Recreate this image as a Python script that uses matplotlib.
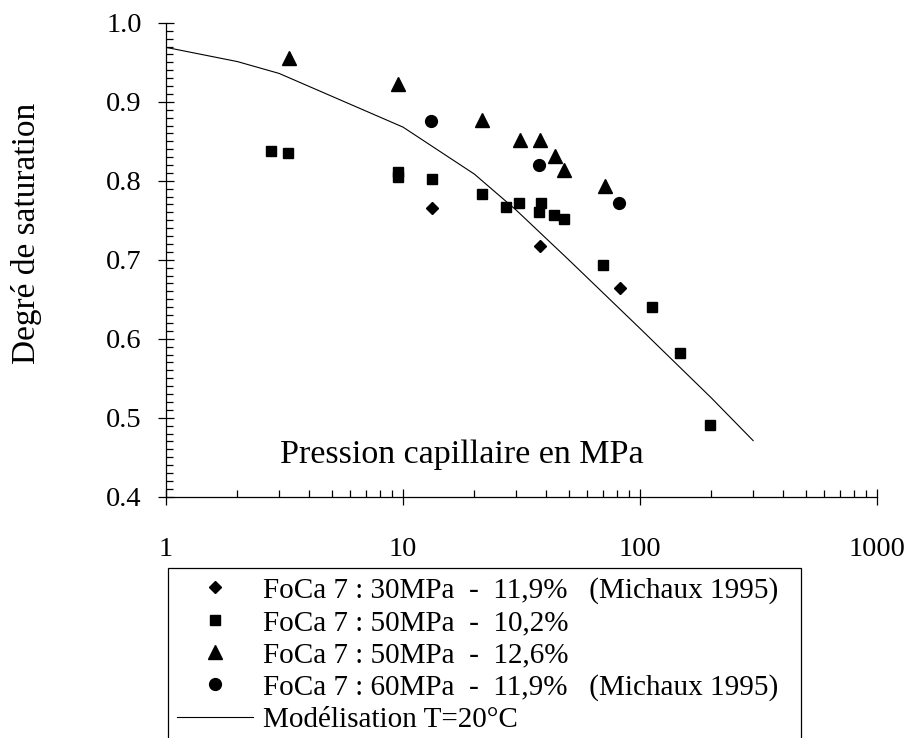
import matplotlib
matplotlib.use("Agg")
import matplotlib.pyplot as plt
from matplotlib.ticker import FixedLocator, LogLocator, MultipleLocator, NullFormatter

plt.rcParams['font.family'] = ['Liberation Serif', 'DejaVu Serif']

# Mesures : pression capillaire (MPa) / degré de saturation
x_30 = [13.3, 37.9, 82.6]
y_30 = [0.766, 0.717, 0.664]

x_50a = [2.78, 3.27, 9.5, 9.5, 13.25, 21.5, 27.1, 31.0, 38.3, 37.6, 43.2, 47.6,
         69.8, 112.5, 147.2, 196.4]
y_50a = [0.838, 0.835, 0.811, 0.805, 0.802, 0.783, 0.767, 0.772, 0.772, 0.760,
         0.757, 0.752, 0.693, 0.640, 0.582, 0.491]

x_50b = [3.29, 9.52, 21.6, 31.3, 37.9, 43.6, 48.0, 71.0]
y_50b = [0.955, 0.922, 0.877, 0.8515, 0.8515, 0.831, 0.8135, 0.793]

x_60 = [13.15, 37.6, 81.9]
y_60 = [0.876, 0.820, 0.772]

# Modélisation à 20°C
x_mod = [1, 2, 3, 10, 20, 30, 50, 100, 200, 300]
y_mod = [0.969, 0.951, 0.936, 0.868, 0.8085, 0.763, 0.700, 0.613, 0.525, 0.471]

labels = [
    "FoCa 7 : 30MPa  -  11,9%   (Michaux 1995)  ",
    "FoCa 7 : 50MPa  -  10,2%",
    "FoCa 7 : 50MPa  -  12,6%",
    "FoCa 7 : 60MPa  -  11,9%   (Michaux 1995)  ",
    "Modélisation T=20°C",
]
xtick_vals = [1, 10, 100, 1000]
xtick_labels = ["1", "10", "100", "1000"]
ytick_vals = [0.4, 0.5, 0.6, 0.7, 0.8, 0.9, 1.0]
ytick_labels = ["0.4", "0.5", "0.6", "0.7", "0.8", "0.9", "1.0"]

fig = plt.figure(figsize=(9.07, 7.38), dpi=100)
ax = fig.add_axes([0.183, 0.327, 0.784, 0.642])

ax.plot(x_30, y_30, linestyle='none', marker='D', ms=6.5, color='black', label=labels[0])
ax.plot(x_50a, y_50a, linestyle='none', marker='s', ms=7.5, color='black', label=labels[1])
ax.plot(x_50b, y_50b, linestyle='none', marker='^', ms=9.5, color='black', label=labels[2])
ax.plot(x_60, y_60, linestyle='none', marker='o', ms=8.5, color='black', label=labels[3])
ax.plot(x_mod, y_mod, color='black', lw=0.8, label=labels[4])

ax.set_xscale('log')
ax.set_xlim(1, 1000)
ax.set_ylim(0.4, 1.0)

ax.xaxis.set_major_locator(FixedLocator(xtick_vals))
ax.set_xticklabels(xtick_labels)
ax.xaxis.set_minor_locator(LogLocator(base=10, subs=range(2, 10)))
ax.xaxis.set_minor_formatter(NullFormatter())
ax.set_yticks(ytick_vals)
ax.set_yticklabels(ytick_labels)
ax.yaxis.set_minor_locator(MultipleLocator(0.01))

ax.spines['top'].set_visible(False)
ax.spines['right'].set_visible(False)
for s in ('left', 'bottom'):
    ax.spines[s].set_linewidth(0.9)

ax.tick_params(which='major', direction='inout', length=12, width=0.9, labelsize=20.5)
ax.tick_params(which='minor', direction='in', length=5, width=0.9)
ax.tick_params(axis='x', which='major', pad=23)
ax.tick_params(axis='y', which='major', pad=11.5)

ax.text(0.416, 0.0705, "Pression capillaire en MPa", transform=ax.transAxes,
        ha='center', va='baseline', fontsize=24.5)
fig.text(0.0287, 0.684, "Degré de saturation", rotation=90,
         ha='center', va='center', fontsize=24)

leg = ax.legend(loc='upper left', bbox_to_anchor=(168 / 907, 1 - 568 / 738),
                bbox_transform=fig.transFigure, fontsize=21, frameon=True,
                fancybox=False, edgecolor='black', framealpha=1,
                borderpad=0.3, borderaxespad=0, handlelength=2.6,
                handletextpad=0.35, labelspacing=0.2)
leg.get_frame().set_linewidth(0.9)

fig.savefig("out.png", dpi=100)
